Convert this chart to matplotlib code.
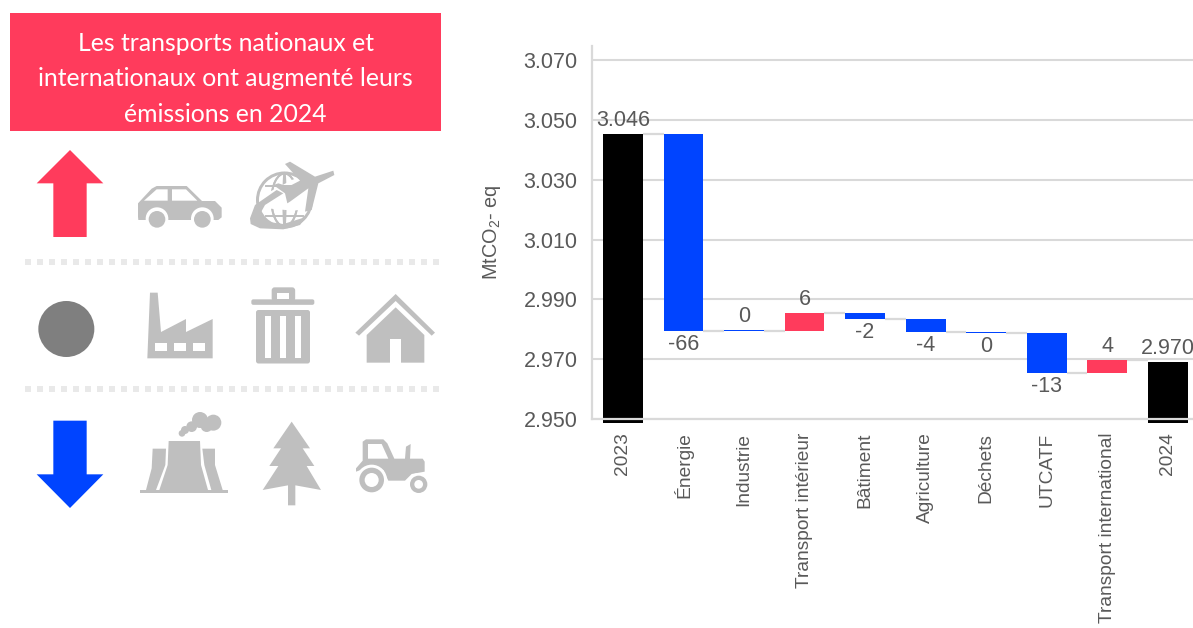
import matplotlib
matplotlib.use("Agg")
import matplotlib.pyplot as plt
from matplotlib.patches import Polygon, Circle, Rectangle, FancyBboxPatch, Ellipse

categories = ["2023", "Énergie", "Industrie", "Transport intérieur", "Bâtiment",
              "Agriculture", "Déchets", "UTCATF", "Transport international", "2024"]
labels = ["3.046", "-66", "0", "6", "-2", "-4", "0", "-13", "4", "2.970"]
bar_start = [2948.7, 3045.3, 2979.5, 2979.5, 2985.5, 2983.5, 2979.2, 2978.9, 2965.4, 2948.7]
bar_end = [3045.3, 2979.3, 2979.9, 2985.5, 2983.5, 2979.2, 2978.9, 2965.4, 2969.7, 2969.2]
connector_level = [3045.3, 2979.3, 2979.3, 2985.5, 2983.5, 2979.2, 2978.9, 2965.4, 2969.7]
label_above = [True, False, True, True, False, False, False, False, True, True]
bar_colors = ["#000000", "#0044ff", "#0044ff", "#ff3b5c", "#0044ff",
              "#0044ff", "#0044ff", "#0044ff", "#ff3b5c", "#000000"]
y_ticks = [2950, 2970, 2990, 3010, 3030, 3050, 3070]
y_tick_labels = ["2.950", "2.970", "2.990", "3.010", "3.030", "3.050", "3.070"]
title_lines = ["Les transports nationaux et", "internationaux ont augmenté leurs", "émissions en 2024"]

W, H = 1193, 628
RED, BLUE, ICON, GRID, TXT = "#ff3b5c", "#0044ff", "#bfbfbf", "#d9d9d9", "#595959"
plt.rcParams["font.family"] = "Liberation Sans"
plt.rcParams["mathtext.default"] = "regular"
fig = plt.figure(figsize=(W / 100, H / 100), dpi=100, facecolor="white")

# chart
L, R, B, T = 592, 1193, 419, 46
ax = fig.add_axes([L / W, 1 - B / H, (R - L) / W, (B - T) / H])
ax.set_ylim(2950, 2950 + (B - T) / 2.99)
ax.set_xlim(-0.512, 9.42)
ax.set_facecolor("none")
ax.yaxis.grid(True, color=GRID, lw=1.5, zorder=0)
ax.set_axisbelow(True)
for s in ("top", "right"):
    ax.spines[s].set_visible(False)
for s in ("left", "bottom"):
    ax.spines[s].set_color(GRID)
    ax.spines[s].set_linewidth(1.6)
    ax.spines[s].set_zorder(5)
xs = list(range(len(categories)))
heights = [e - s for s, e in zip(bar_start, bar_end)]
ax.bar(xs, heights, bottom=bar_start, width=0.66, color=bar_colors, zorder=3, clip_on=False)
for i, lev in enumerate(connector_level):
    ax.plot([i + 0.33, i + 0.67], [lev, lev], color=GRID, lw=1.6, zorder=2, solid_capstyle="butt")
for i, t in enumerate(labels):
    top = max(bar_start[i], bar_end[i])
    bot = min(bar_start[i], bar_end[i])
    ax.annotate(t, (i, top if label_above[i] else bot),
                xytext=(0, 9.7 if label_above[i] else -9.7), textcoords="offset points",
                ha="center", va="center", fontsize=15.5, color=TXT, zorder=6)
ax.set_yticks(y_ticks, y_tick_labels, fontsize=15.5, color=TXT)
ax.set_xticks(xs, categories, rotation=90, fontsize=13.8, color=TXT)
ax.tick_params(axis="y", length=0, pad=10.5)
ax.tick_params(axis="x", length=0, pad=9.8)
fig.text(492 / W, 1 - 232 / H, "MtCO$_2$- eq", rotation=90, ha="center", va="center",
         fontsize=14.3, color=TXT)

# left panel in pixel coordinates
ov = fig.add_axes([0, 0, 1, 1], zorder=-1)
ov.set_xlim(0, W)
ov.set_ylim(H, 0)
ov.axis("off")


def z(pts):
    return [(x / 3, 140 + y / 3) for x, y in pts]


def poly(pts, c=ICON):
    ov.add_patch(Polygon(z(pts), closed=True, fc=c, ec="none"))


def circ(x, y, r, c=ICON):
    ov.add_patch(Circle((x / 3, 140 + y / 3), r / 3, fc=c, ec="none"))


def rect(x0, y0, x1, y1, c=ICON):
    poly([(x0, y0), (x1, y0), (x1, y1), (x0, y1)], c)


ov.add_patch(Rectangle((10, 13), 431, 118, fc=RED, ec="none"))
for line, y in zip(title_lines, (43.5, 78.5, 114)):
    ov.text(225.5, y, line, color="white", ha="center", va="center", fontsize=17.8, family="Lato")

# arrows
poly([(210, 30), (310, 130), (260, 130), (260, 291), (160, 291), (160, 130), (110, 130)], RED)
poly([(160, 842), (260, 842), (260, 1003), (310, 1003), (210, 1104), (110, 1003), (160, 1003)], BLUE)
circ(199, 567, 84, "#7f7f7f")

# dotted separators
for zy in (367, 746):
    for k in range(35):
        x0 = 75 + 36 * k
        rect(x0, zy - 9, x0 + 18, zy + 9, "#e9e9e9")

# car
poly([(414, 190), (455, 146), (470, 138), (560, 138), (606, 183), (645, 183), (665, 203),
      (665, 232), (655, 240), (415, 240), (414, 230)])
poly([(432, 182), (470, 148), (503, 148), (503, 182)], "white")
poly([(516, 148), (558, 148), (592, 182), (516, 182)], "white")
for cx in (471, 607):
    circ(cx, 236, 34, "white")
    circ(cx, 238, 25)

# globe and plane
ov.add_patch(Circle((284.5, 200), 28.5, fc=ICON, ec="none"))
ov.add_patch(Circle((284.5, 200), 25.5, fc="white", ec="none"))
for dx in (-12, 0, 12):
    ov.add_patch(Ellipse((284.5, 200), abs(dx) * 2 + 2.2, 53, fc="none", ec=ICON, lw=1.4))
ov.plot([266, 303], [186, 186], color=ICON, lw=1.4)
ov.plot([266, 303], [216, 216], color=ICON, lw=1.4)
poly([(800, 160), (880, 118), (950, 120), (935, 205), (880, 212), (800, 205), (775, 195)], "white")
poly([(750, 235), (765, 195), (830, 150), (850, 160), (795, 195), (780, 222), (800, 245),
      (850, 252), (905, 235), (930, 215), (900, 255), (850, 268), (780, 265), (752, 252)])
poly([(1000, 92), (1003, 105), (955, 130), (935, 210), (915, 215), (925, 145), (870, 185),
      (862, 190), (855, 160), (820, 135), (835, 130), (865, 140), (900, 122), (855, 72),
      (870, 65), (945, 110)])

# factory
poly([(442, 655), (450, 458), (473, 458), (483, 576), (558, 537), (558, 576), (638, 537), (638, 655)])
for x0 in (466, 523, 580):
    rect(x0, 608, x0 + 35, 634, "white")

# bin
ov.add_patch(FancyBboxPatch((751 / 3 + 1, 140 + 478 / 3), 63, 5.5, boxstyle="round,pad=0,rounding_size=2",
                            fc=ICON, ec="none"))
ov.add_patch(FancyBboxPatch((815 / 3, 140 + 442 / 3), 23.5, 14, boxstyle="round,pad=0,rounding_size=3",
                            fc=ICON, ec="none"))
rect(830, 458, 868, 478, "white")
ov.add_patch(FancyBboxPatch((768 / 3, 140 + 510 / 3), 54, 53.5, boxstyle="round,pad=0,rounding_size=2.5",
                            fc=ICON, ec="none"))
for x0 in (795, 840, 885):
    rect(x0, 528, x0 + 18, 654, "white")

# house
poly([(1187, 462), (1305, 578), (1295, 587), (1187, 483), (1077, 587), (1066, 578)])
poly([(1187, 502), (1273, 585), (1273, 668), (1203, 668), (1203, 597), (1170, 597), (1170, 668),
      (1100, 668), (1100, 585)])

# cooling towers
poly([(458, 926), (498, 926), (496, 975), (468, 1050), (438, 1050), (455, 985)])
poly([(506, 903), (600, 903), (603, 975), (624, 1050), (478, 1050), (503, 975)])
poly([(607, 926), (645, 926), (645, 975), (668, 1050), (634, 1050), (613, 975)])
rect(420, 1050, 685, 1060)
for cx, cy, r in ((600, 840, 24), (640, 848, 24), (620, 858, 18), (575, 860, 16), (555, 870, 12), (546, 880, 10)):
    circ(cx, cy, r)

# tree
poly([(875, 845), (930, 925), (908, 925), (943, 978), (920, 978), (963, 1050), (886, 1036),
      (886, 1096), (864, 1096), (864, 1036), (788, 1050), (835, 978), (808, 978), (843, 925), (820, 925)])

# tractor
poly([(1088, 905), (1098, 898), (1150, 898), (1162, 910), (1183, 956), (1215, 956), (1218, 920),
      (1232, 912), (1230, 956), (1268, 956), (1274, 965), (1274, 995), (1235, 1002), (1215, 1022),
      (1165, 1022), (1150, 990), (1110, 980), (1068, 995), (1068, 985), (1088, 962)])
poly([(1104, 912), (1145, 912), (1165, 956), (1104, 956)], "white")
circ(1115, 1020, 46, "white")
circ(1115, 1020, 37)
circ(1115, 1020, 21, "white")
circ(1256, 1033, 34, "white")
circ(1256, 1033, 26)
circ(1256, 1033, 13, "white")

fig.savefig("out.png", dpi=100)
